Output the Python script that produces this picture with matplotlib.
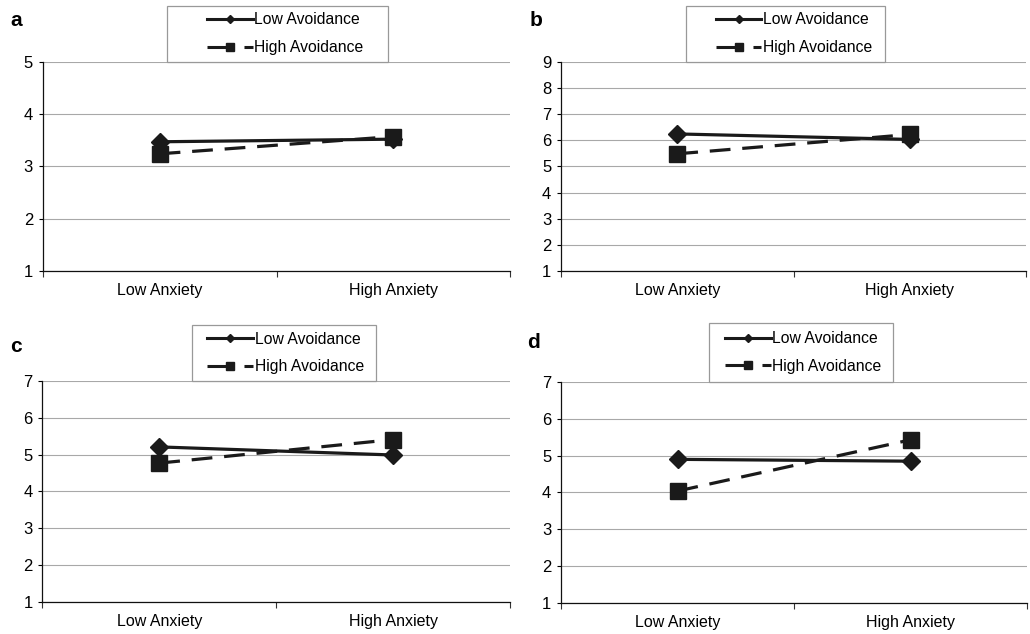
import matplotlib
matplotlib.use('Agg')
import matplotlib.pyplot as plt
from matplotlib.lines import Line2D
from matplotlib.patches import Rectangle

plt.rcParams['font.family'] = ['Liberation Sans', 'DejaVu Sans']

categories = ['Low Anxiety', 'High Anxiety']
series_names = ['Low Avoidance', 'High Avoidance']

a_low = [3.47, 3.52]
a_high = [3.24, 3.57]
b_low = [6.24, 6.03]
b_high = [5.48, 6.22]
c_low = [5.21, 4.99]
c_high = [4.77, 5.41]
d_low = [4.90, 4.85]
d_high = [4.04, 5.43]

# name, series, y range, axes rect, legend box (x0, x1, top) and handle start
panels = [
    ('a', a_low, a_high, (1, 5), [0.0415, 0.5726, 0.4540, 0.3300], (0.266, 0.739, 1.268), 0.352),
    ('b', b_low, b_high, (1, 9), [0.5447, 0.5726, 0.4515, 0.3300], (0.269, 0.697, 1.268), 0.333),
    ('c', c_low, c_high, (1, 7), [0.0410, 0.0505, 0.4545, 0.3486], (0.320, 0.714, 1.253), 0.353),
    ('d', d_low, d_high, (1, 7), [0.5447, 0.0489, 0.4525, 0.3486], (0.318, 0.713, 1.267), 0.352),
]
letter_pos = {'a': (10, 20), 'b': (530, 20), 'c': (10, 347), 'd': (527, 343)}

W, H = 1030, 634
fig = plt.figure(figsize=(W / 100, H / 100), dpi=100)

x = list(range(len(categories)))
for name, low, high, ylim, rect, box, hx in panels:
    ax = fig.add_axes(rect)
    ax.plot(x, low, '-', color='#1a1a1a', linewidth=2.3, marker='D', markersize=9,
            zorder=3)
    ax.plot(x, high, '--', color='#1a1a1a', linewidth=2.3, marker='s', markersize=11,
            dashes=(6.5, 3.7), zorder=3)
    ax.set_xlim(-0.5, 1.5)
    ax.set_ylim(*ylim)
    ax.set_yticks(range(ylim[0], ylim[1] + 1))
    ax.set_xticks(x)
    ax.set_xticklabels(categories)
    ax.set_xticks([-0.5, 0.5, 1.5], minor=True)
    ax.tick_params(axis='x', which='major', length=0, labelsize=11.5, pad=9)
    ax.tick_params(axis='x', which='minor', length=4, width=0.8, color='#333333')
    ax.tick_params(axis='y', length=3, width=0.8, labelsize=12, pad=4)
    ax.grid(True, axis='y', color='#a8a8a8', linewidth=0.8)
    ax.set_axisbelow(True)
    for sp in ['top', 'right']:
        ax.spines[sp].set_visible(False)
    for sp in ['left', 'bottom']:
        ax.spines[sp].set_color('#111111')
        ax.spines[sp].set_linewidth(0.9)

    # legend frame drawn separately so its size matches the original
    x0, x1, top = box
    ax.add_patch(Rectangle((x0, 1.0), x1 - x0, top - 1.0, transform=ax.transAxes,
                           facecolor='white', edgecolor='#999999', linewidth=0.9,
                           clip_on=False, zorder=4))
    handles = [
        Line2D([], [], color='#1a1a1a', linewidth=2.2, marker='D', markersize=4.5),
        Line2D([], [], color='#1a1a1a', linewidth=2.2, linestyle='--', marker='s',
               markersize=5.5, dashes=(8.8, 3.3)),
    ]
    leg = ax.legend(handles, series_names, loc='center left',
                    bbox_to_anchor=(hx, (1.0 + top) / 2), fontsize=11.3,
                    frameon=False, handlelength=2.9, handletextpad=0.1,
                    borderpad=0, labelspacing=0.8, borderaxespad=0)
    leg.set_zorder(5)
    lx, ly = letter_pos[name]
    fig.text(lx / W, 1 - ly / H, name, fontsize=15, fontweight='bold',
             va='center', ha='left')

fig.savefig('out.png', dpi=100)
